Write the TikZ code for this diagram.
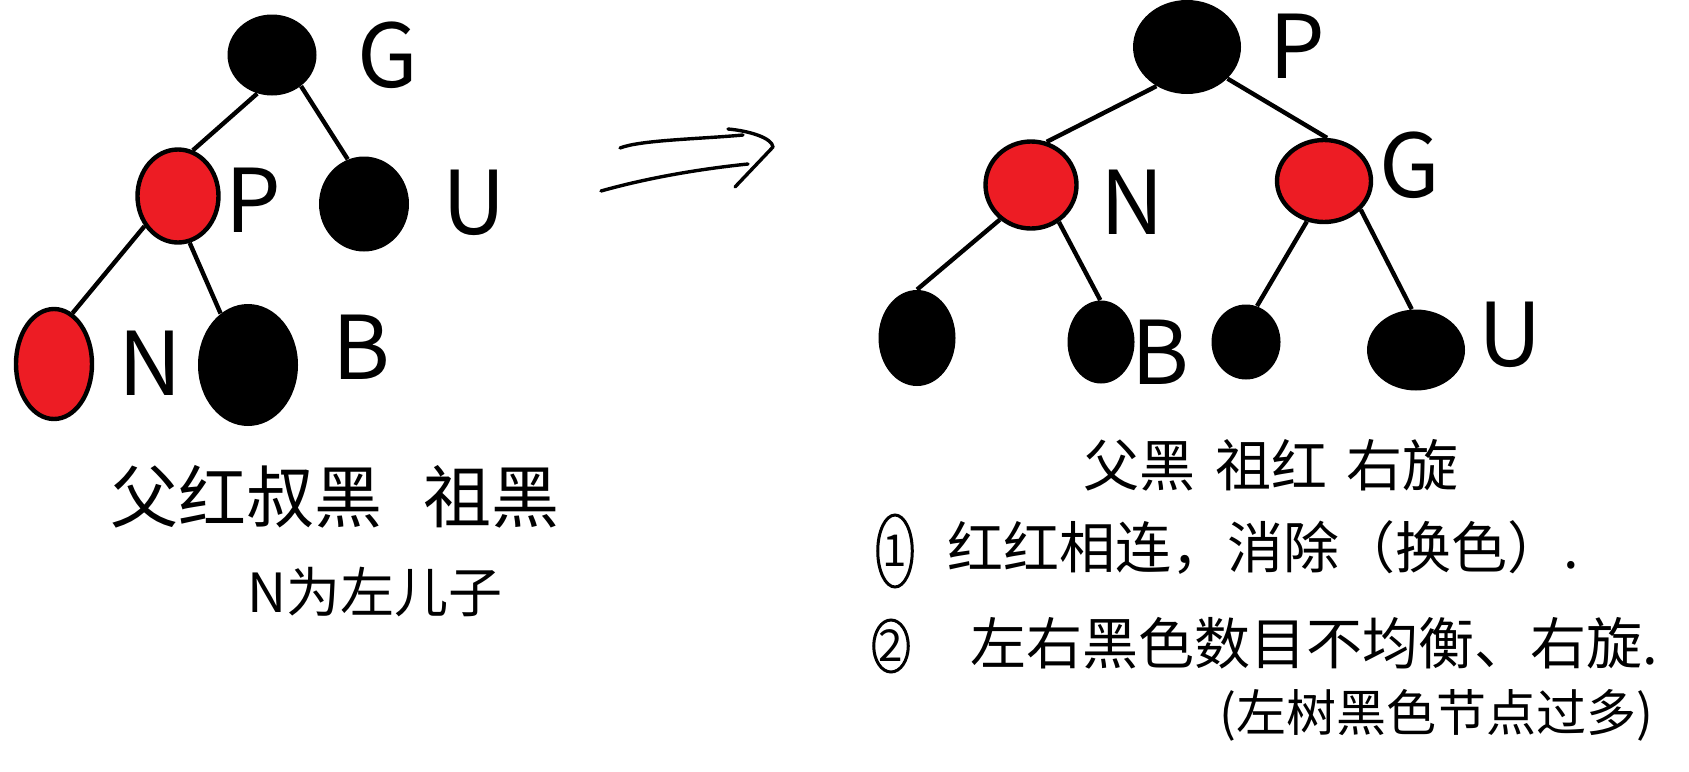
\documentclass[tikz,border=0pt]{standalone}
\usepackage{fontspec}
\usepackage{tikz}
\usetikzlibrary{shapes.geometric}
\newfontfamily\cjk{Noto Sans CJK SC}
\definecolor{PaintRed}{HTML}{ED1C24}

\begin{document}
\begin{tikzpicture}[x=0.5pt, y=-0.5pt,
  blacknode/.style={ellipse, fill=black, inner sep=0pt},
  rednode/.style={ellipse, fill=PaintRed, draw=black, line width=2.2pt, inner sep=0pt},
  branch/.style={line width=2.2pt},
  letter/.style={font=\cjk\fontsize{44}{44}\selectfont, inner sep=0pt},
  note/.style={font=\cjk\fontsize{28}{30}\selectfont, inner sep=0pt, anchor=west},
  circled/.style={ellipse, draw=black, line width=1.5pt, inner sep=0pt,
                  font=\cjk\fontsize{22}{22}\selectfont},
  stroke/.style={line width=1.7pt, line cap=round, line join=round}]
\useasboundingbox (0,0) rectangle (1689,771);

\node[blacknode, minimum width=44.5pt, minimum height=40.5pt] (G1) at (272,55) {};
\node[rednode, minimum width=40.5pt, minimum height=46.5pt] (P1) at (178,196) {};
\node[blacknode, minimum width=45pt, minimum height=47.5pt] (U1) at (364,204) {};
\node[rednode, minimum width=38pt, minimum height=55pt] (N1) at (54,364) {};
\node[blacknode, minimum width=50pt, minimum height=61pt] (B1) at (248,365) {};

\node[blacknode, minimum width=54pt, minimum height=47pt] (P2) at (1187,47) {};
\node[rednode, minimum width=45.5pt, minimum height=43.5pt] (N2) at (1031,185) {};
\node[rednode, minimum width=47pt, minimum height=41pt] (G2) at (1324,181) {};
\node[blacknode, minimum width=38.5pt, minimum height=48pt] (L1) at (917,338) {};
\node[blacknode, minimum width=33.5pt, minimum height=41.5pt] (B2) at (1101,342) {};
\node[blacknode, minimum width=34.5pt, minimum height=37.5pt] (L3) at (1246,342) {};
\node[blacknode, minimum width=49pt, minimum height=40.5pt] (U2) at (1416,350) {};

\draw[branch] (G1.249) -- (P1.72);
\draw[branch] (G1.313) -- (U1.110);
\draw[branch] (P1.222) -- (N1.70);
\draw[branch] (P1.284) -- (B1.118);

\draw[branch] (P2.232) -- (N2.70);
\draw[branch] (P2.322) -- (G2.86);
\draw[branch] (N2.228) -- (L1.90);
\draw[branch] (N2.307) -- (B2.91);
\draw[branch] (G2.247) -- (L3.73);
\draw[branch] (G2.322) -- (U2.96);

\node[letter] (lG1) at (388,55) {G};
\node[letter] (lP1) at (253,200) {P};
\node[letter] (lU1) at (474,203) {U};
\node[letter] (lN1) at (150,363) {N};
\node[letter] (lB1) at (361,347) {B};

\node[letter] (lP2) at (1297,46) {P};
\node[letter] (lN2) at (1132,202) {N};
\node[letter] (lG2) at (1410,165) {G};
\node[letter] (lB2) at (1160,352) {B};
\node[letter] (lU2) at (1510,335) {U};

\draw[stroke] (620,148) .. controls (640,140) and (700,139) .. (743,135);
\draw[stroke] (601,191) .. controls (640,180) and (690,170) .. (748,164);
\draw[stroke] (728,129) .. controls (750,131) and (772,138) .. (773,147) -- (735,187);

\node[note, font=\cjk\fontsize{34}{34}\selectfont] (t1) at (110,497) {父红叔黑\hspace{0.6em}祖黑};
\node[note, font=\cjk\fontsize{27}{27}\selectfont] (t2) at (247,592) {N为左儿子};
\node[note] (t3) at (1083,465) {父黑\hspace{0.35em}祖红\hspace{0.35em}右旋};
\node[circled, minimum width=17pt, minimum height=36pt] (c1) at (895,551) {1};
\node[note] (t4) at (947,548) {红红相连，消除（换色）.};
\node[circled, minimum width=17pt, minimum height=26pt] (c2) at (891,646) {2};
\node[note] (t5) at (970,643) {左右黑色数目不均衡、右旋.};
\node[note, font=\cjk\fontsize{25}{25}\selectfont] (t6) at (1219,715) {(左树黑色节点过多)};
\end{tikzpicture}
\end{document}
